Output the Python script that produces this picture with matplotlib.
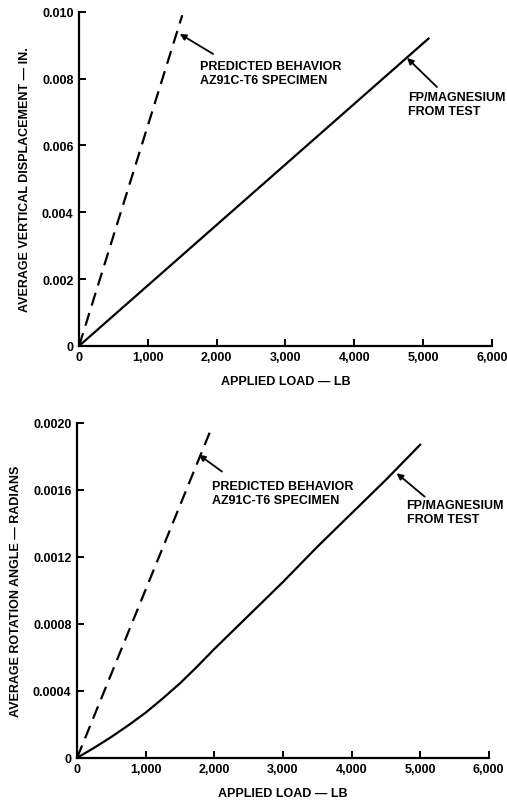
import matplotlib
matplotlib.use("Agg")
from matplotlib import pyplot as plt

plt.rcParams['font.family'] = ['Liberation Sans', 'DejaVu Sans']
plt.rcParams['font.weight'] = 'bold'

# top chart: average vertical displacement (in.) vs applied load (lb)
disp_pred_load = [0, 1500]
disp_pred = [0, 0.0099]
disp_test_load = [0, 5080]
disp_test = [0, 0.0092]

# bottom chart: average rotation angle (rad) vs applied load (lb)
rot_pred_load = [0, 1970]
rot_pred = [0, 0.00198]
rot_test_load = [0, 250, 500, 750, 1000, 1250, 1500, 1750, 2000,
                 2500, 3000, 3500, 4000, 4500, 5000]
rot_test = [0, 0.00006, 0.000125, 0.000195, 0.00027, 0.000355, 0.000445,
            0.000545, 0.00065, 0.00085, 0.00105, 0.00126, 0.00146,
            0.00166, 0.00187]

x_ticks = [0, 1000, 2000, 3000, 4000, 5000, 6000]
x_labels = ['0', '1,000', '2,000', '3,000', '4,000', '5,000', '6,000']
disp_ticks = [0, 0.002, 0.004, 0.006, 0.008, 0.010]
disp_labels = ['0', '0.002', '0.004', '0.006', '0.008', '0.010']
rot_ticks = [0, 0.0004, 0.0008, 0.0012, 0.0016, 0.0020]
rot_labels = ['0', '0.0004', '0.0008', '0.0012', '0.0016', '0.0020']

pred_text = "PREDICTED BEHAVIOR\nAZ91C-T6 SPECIMEN"
test_text = "FP/MAGNESIUM\nFROM TEST"

FS = 9
arrow = dict(arrowstyle='-|>', color='black', lw=1.3, mutation_scale=9,
             shrinkA=0, shrinkB=0)

fig = plt.figure(figsize=(5.07, 8.03), dpi=100)
ax1 = fig.add_axes([0.156, 0.568, 0.814, 0.416])
ax2 = fig.add_axes([0.152, 0.055, 0.812, 0.417])


def style(ax, yticks, ylabels, ylabel):
    ax.set_xlim(0, 6000)
    ax.set_ylim(0, yticks[-1])
    ax.set_xticks(x_ticks)
    ax.set_xticklabels(x_labels)
    ax.set_yticks(yticks)
    ax.set_yticklabels(ylabels)
    for s in ['top', 'right']:
        ax.spines[s].set_visible(False)
    for s in ['left', 'bottom']:
        ax.spines[s].set_linewidth(1.6)
    ax.tick_params(direction='in', length=5, width=1.4, labelsize=FS, pad=4)
    ax.set_xlabel("APPLIED LOAD \u2014 LB", fontsize=FS, fontweight='bold', labelpad=8)
    ax.set_ylabel(ylabel, fontsize=FS, fontweight='bold', labelpad=8)


# top chart
l, = ax1.plot(disp_pred_load, disp_pred, color='black', lw=1.6, linestyle='--')
l.set_dashes((6, 3.5))
ax1.plot(disp_test_load, disp_test, color='black', lw=1.6)
style(ax1, disp_ticks, disp_labels, "AVERAGE VERTICAL DISPLACEMENT \u2014 IN.")
ax1.annotate('', xy=(1464, 0.00934), xytext=(1948, 0.00874), arrowprops=arrow)
ax1.text(1754, 0.00816, pred_text, fontsize=FS, fontweight='bold', va='center',
         ha='left', linespacing=1.25)
ax1.annotate('', xy=(4768, 0.00862), xytext=(5203, 0.00775), arrowprops=arrow)
ax1.text(4783, 0.00725, test_text, fontsize=FS, fontweight='bold', va='center',
         ha='left', linespacing=1.25)

# bottom chart
l, = ax2.plot(rot_pred_load, rot_pred, color='black', lw=1.6, linestyle='--')
l.set_dashes((6, 3.5))
ax2.plot(rot_test_load, rot_test, color='black', lw=1.6)
style(ax2, rot_ticks, rot_labels, "AVERAGE ROTATION ANGLE \u2014 RADIANS")
ax2.annotate('', xy=(1776, 0.00181), xytext=(2111, 0.00171), arrowprops=arrow)
ax2.text(1965, 0.00158, pred_text, fontsize=FS, fontweight='bold', va='center',
         ha='left', linespacing=1.25)
ax2.annotate('', xy=(4658, 0.00170), xytext=(5066, 0.00156), arrowprops=arrow)
ax2.text(4803, 0.00147, test_text, fontsize=FS, fontweight='bold', va='center',
         ha='left', linespacing=1.25)

fig.savefig("out.png", dpi=100)
